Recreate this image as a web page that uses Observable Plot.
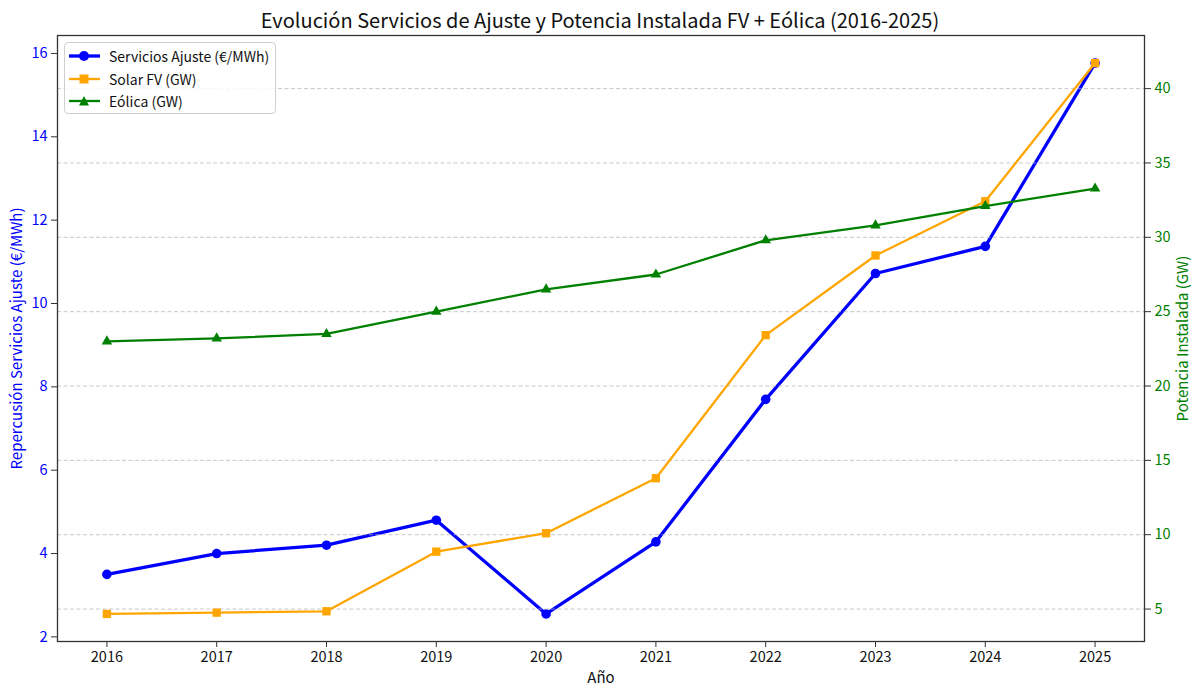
<!DOCTYPE html>
<html><head><meta charset="utf-8">
<script src="https://cdn.jsdelivr.net/npm/d3@7"></script>
<script src="https://cdn.jsdelivr.net/npm/@observablehq/plot@0.6"></script>
<style>
body{margin:0;background:#fff;font-family:"Noto Sans CJK JP","Noto Sans",sans-serif;}
#wrap{position:relative;width:1200px;height:697px;overflow:hidden;}
#wrap > svg{position:absolute;left:0;top:0;}
#title{position:absolute;top:5px;left:0;width:1200px;text-align:center;font-size:20px;line-height:30px;color:#111;z-index:3;}
#legend{position:absolute;left:64px;top:42px;width:210px;height:70px;border:1px solid #d0d0d0;border-radius:4px;background:rgba(255,255,255,0.85);z-index:4;}
#legend .row{position:absolute;left:0;width:210px;height:22px;line-height:22px;font-size:14px;color:#111;white-space:nowrap;}
#legend .row svg{position:absolute;left:3px;top:5px;}
#legend .row span{position:absolute;left:44px;top:0;}
</style></head><body>
<div id="wrap"><div id="title">Evolución Servicios de Ajuste y Potencia Instalada FV + Eólica (2016-2025)</div></div>
<script>
const years = [2016, 2017, 2018, 2019, 2020, 2021, 2022, 2023, 2024, 2025];
const servicios = [3.5, 4.0, 4.2, 4.8, 2.55, 4.28, 7.7, 10.72, 11.37, 15.77];
const solar = [4.67, 4.76, 4.85, 8.86, 10.1, 13.8, 23.42, 28.78, 32.43, 41.72];
const eolica = [23.0, 23.2, 23.5, 25.0, 26.5, 27.5, 29.8, 30.8, 32.1, 33.28];
const leftTicks = [2, 4, 6, 8, 10, 12, 14, 16];
const rightTicks = [5, 10, 15, 20, 25, 30, 35, 40];
const seriesNames = ["Servicios Ajuste (€/MWh)", "Solar FV (GW)", "Eólica (GW)"];
const seriesColors = ["blue", "orange", "green"];
const labels = {x: "Año", left: "Repercusión Servicios Ajuste (€/MWh)", right: "Potencia Instalada (GW)"};

const table = years.map((y, i) => ({year: y, servicios: servicios[i], solar: solar[i], eolica: eolica[i]}));

const pad = (lo, hi) => { const m = (hi - lo) * 0.05; return [lo - m, hi + m]; };
const xDomain = pad(d3.min(years), d3.max(years));
const yLeftDomain = pad(d3.min(servicios), d3.max(servicios));
const yRightDomain = pad(Math.min(d3.min(solar), d3.min(eolica)), Math.max(d3.max(solar), d3.max(eolica)));

const common = {
  width: 1200, height: 697,
  marginTop: 35, marginBottom: 56, marginLeft: 57, marginRight: 56,
  style: {fontFamily: '"Noto Sans CJK JP","Noto Sans",sans-serif', fontSize: "14.5px", background: "transparent", overflow: "visible"}
};

const p1 = Plot.plot({
  ...common,
  x: {domain: xDomain},
  y: {domain: yLeftDomain},
  marks: [
    Plot.axisX({ticks: years, tickFormat: d => String(d), tickSize: 6, tickPadding: 4, stroke: "#333", fill: "#111", label: null}),
    Plot.axisY({ticks: leftTicks, tickSize: 6, tickPadding: 4, stroke: "#333", fill: "blue", label: null}),
    Plot.text([labels.x], {frameAnchor: "bottom", textAnchor: "middle", dy: 41, fill: "#111", fontSize: 15}),
    Plot.text([labels.left], {frameAnchor: "left", textAnchor: "middle", dx: -40, rotate: -90, fill: "blue", fontSize: 15}),
    Plot.line(table, {x: "year", y: "servicios", stroke: seriesColors[0], strokeWidth: 3.3}),
    Plot.dot(table, {x: "year", y: "servicios", r: 4.8, fill: seriesColors[0]})
  ]
});

const p2 = Plot.plot({
  ...common,
  x: {domain: xDomain, axis: null},
  y: {domain: yRightDomain},
  marks: [
    Plot.gridY(rightTicks, {stroke: "#b0b0b0", strokeOpacity: 0.7, strokeWidth: 1, strokeDasharray: "4,2.5"}),
    Plot.axisY({anchor: "right", ticks: rightTicks, tickSize: 6, tickPadding: 4, stroke: "#333", fill: "green", label: null}),
    Plot.text([labels.right], {frameAnchor: "right", textAnchor: "middle", dx: 39, rotate: -90, fill: "green", fontSize: 15}),
    Plot.line(table, {x: "year", y: "solar", stroke: seriesColors[1], strokeWidth: 2.3}),
    Plot.dot(table, {x: "year", y: "solar", symbol: "square", r: 4.7, fill: seriesColors[1]}),
    Plot.line(table, {x: "year", y: "eolica", stroke: seriesColors[2], strokeWidth: 2.3}),
    Plot.dot(table, {x: "year", y: "eolica", symbol: "triangle", r: 3.9, fill: seriesColors[2]}),
    Plot.frame({stroke: "#333", strokeWidth: 1.3})
  ]
});

const wrap = document.getElementById("wrap");
wrap.appendChild(p1);
wrap.appendChild(p2);

// legend
const legend = document.createElement("div");
legend.id = "legend";
const markers = [
  '<circle cx="16" cy="6" r="5" fill="blue"/>',
  '<rect x="11.5" y="1.5" width="9" height="9" fill="orange"/>',
  '<path d="M16,1 L21,10.5 L11,10.5 Z" fill="green"/>'
];
const widths = [3.3, 2.3, 2.3];
seriesNames.forEach((name, i) => {
  const row = document.createElement("div");
  row.className = "row";
  row.style.top = (2 + i * 22.5) + "px";
  row.innerHTML = `<svg width="33" height="12"><line x1="1" y1="6" x2="32" y2="6" stroke="${seriesColors[i]}" stroke-width="${widths[i]}"/>${markers[i]}</svg><span>${name}</span>`;
  legend.appendChild(row);
});
wrap.appendChild(legend);
</script>
</body></html>
